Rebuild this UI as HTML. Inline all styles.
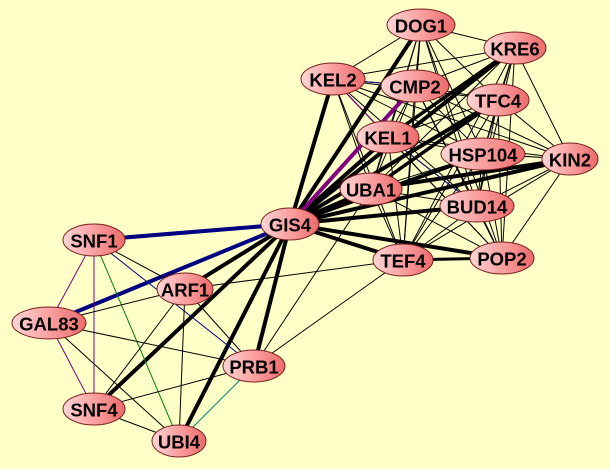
<!DOCTYPE html>
<html><head><meta charset="utf-8"><style>
html,body{margin:0;padding:0;background:#ffffc8;}
svg{display:block}
text{font-family:"Liberation Sans",sans-serif;font-weight:bold;font-size:18.5px;fill:#000;text-anchor:middle;dominant-baseline:central}
</style></head><body>
<svg id="s" width="610" height="469" viewBox="0 0 610 469">
<defs><linearGradient id="g" x1="0" x2="1" y1="0" y2="0"><stop offset="0" stop-color="#ffd6d6"/><stop offset="0.5" stop-color="#f9a0a0"/><stop offset="1" stop-color="#ee6a6a"/></linearGradient></defs>
<g id="edges"></g>
<g id="nodes"></g>
</svg>
<script>
var N={DOG1:[421,25,34],KRE6:[515,48,31],CMP2:[415,86,34],TFC4:[498,100,31],HSP104:[483,154,42],KIN2:[570,159,28],BUD14:[477,206,37],POP2:[502,258,32],TEF4:[403,260,30],KEL1:[388,137,31],UBA1:[371,189,31],KEL2:[333,79,32],GIS4:[290,224,29],SNF1:[94,240,31],ARF1:[185,289,28],GAL83:[49,323,37],PRB1:[254,366,31],SNF4:[94,409,31],UBI4:[179,441,27]};
var E=document.getElementById('edges'),G=document.getElementById('nodes'),ns='http://www.w3.org/2000/svg';
function L(a,b,w,c){var l=document.createElementNS(ns,'line');l.setAttribute('x1',N[a][0]);l.setAttribute('y1',N[a][1]);l.setAttribute('x2',N[b][0]);l.setAttribute('y2',N[b][1]);l.setAttribute('stroke',c||'#000');l.setAttribute('stroke-width',w);E.appendChild(l);}
var C=['DOG1','KRE6','CMP2','TFC4','HSP104','KIN2','BUD14','POP2','TEF4','KEL1','UBA1','KEL2'];
for(var i=0;i<C.length;i++)for(var j=i+1;j<C.length;j++){var a=C[i],b=C[j];if((a=='KEL2'&&(b=='KIN2'||b=='POP2'))||(a=='DOG1'&&b=='KIN2'))continue;L(a,b,1);}
L('KEL2','KEL1',1.2,'#800080');L('KEL2','CMP2',1,'#000080');L('KEL1','BUD14',1,'#000080');
['DOG1','KRE6','KEL1','UBA1','HSP104','BUD14','KIN2','TFC4','TEF4','POP2','KEL2'].forEach(function(x){L('GIS4',x,4);});
L('GIS4','CMP2',4,'#800080');L('UBA1','KIN2',4);L('KRE6','KEL1',3.5);L('TFC4','UBA1',3.5);L('TEF4','POP2',3);
L('GIS4','SNF1',4,'#000080');L('GIS4','GAL83',4,'#000080');
['ARF1','SNF4','UBI4','PRB1'].forEach(function(x){L('GIS4',x,4);});
L('SNF1','GAL83',1,'#800080');L('SNF1','SNF4',1,'#800080');L('GAL83','SNF4',1,'#800080');L('SNF1','UBI4',1,'#008000');L('SNF1','PRB1',1,'#000080');L('PRB1','UBI4',1,'#008080');
[['SNF1','ARF1'],['GAL83','ARF1'],['GAL83','PRB1'],['GAL83','UBI4'],['ARF1','SNF4'],['ARF1','UBI4'],['ARF1','PRB1'],['ARF1','TEF4'],['SNF4','PRB1'],['SNF4','UBI4'],['PRB1','TEF4'],['PRB1','UBA1']].forEach(function(p){L(p[0],p[1],1);});
for(var k in N){var n=N[k];var e=document.createElementNS(ns,'ellipse');e.setAttribute('cx',n[0]);e.setAttribute('cy',n[1]);e.setAttribute('rx',n[2]);e.setAttribute('ry',16);e.setAttribute('fill','url(#g)');e.setAttribute('stroke','#7a2020');e.setAttribute('stroke-width',1);G.appendChild(e);
var t=document.createElementNS(ns,'text');t.setAttribute('x',n[0]);t.setAttribute('y',n[1]+1);t.textContent=k;G.appendChild(t);}
</script>
</body></html>
